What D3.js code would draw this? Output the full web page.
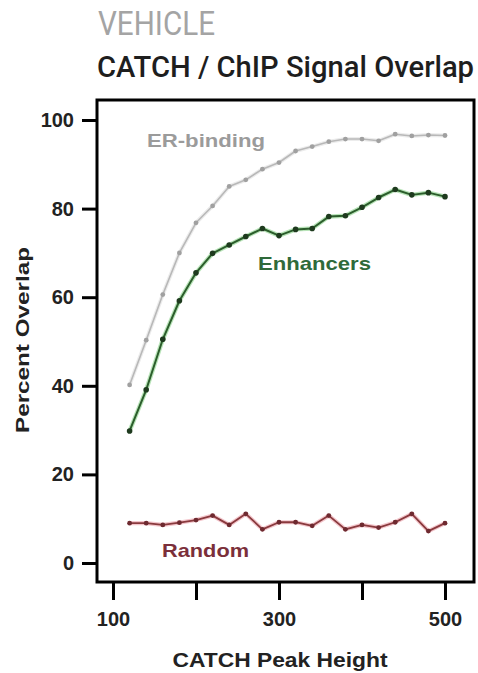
<!DOCTYPE html>
<html><head><meta charset="utf-8">
<script src="https://cdn.jsdelivr.net/npm/d3@7"></script>
<style>html,body{margin:0;padding:0;background:#fff;}svg{display:block;}</style>
</head><body>
<script>
const peakHeight = [120,140,160,180,200,220,240,260,280,300,320,340,360,380,400,420,440,460,480,500];
const erBinding = [40.2,50.3,60.6,70.0,76.8,80.6,85.0,86.5,88.9,90.4,93.0,94.0,95.1,95.7,95.7,95.3,96.8,96.4,96.6,96.5];
const enhancers = [29.8,39.1,50.5,59.2,65.5,69.9,71.8,73.7,75.5,73.9,75.3,75.5,78.2,78.4,80.3,82.5,84.3,83.1,83.6,82.7];
const randomSet = [9.0,9.0,8.6,9.1,9.7,10.7,8.6,11.1,7.6,9.2,9.2,8.4,10.7,7.6,8.6,8.0,9.2,11.1,7.2,9.0];
const xTicks = [100,200,300,400,500];
const xTickLabels = ["100","","300","","500"];
const yTicks = [0,20,40,60,80,100];
const seriesNames = ["ER-binding","Enhancers","Random"];

const W = 478, H = 673;
const svg = d3.select("body").append("svg").attr("width", W).attr("height", H);
const font = "'Liberation Sans', Arial, sans-serif";
const titleFont = "Roboto, 'Liberation Sans', Arial, sans-serif";

const x = d3.scaleLinear().domain([100,500]).range([113,445]);
const y = d3.scaleLinear().domain([0,100]).range([563,120]);

// titles
svg.append("text").attr("x",98).attr("y",35).text("VEHICLE")
  .attr("font-family",titleFont).attr("font-size",33).attr("font-weight",400).attr("fill","#a4a4a4")
  .attr("textLength",117).attr("lengthAdjust","spacingAndGlyphs");
svg.append("text").attr("x",97).attr("y",77).text("CATCH / ChIP Signal Overlap")
  .attr("font-family",titleFont).attr("font-size",29).attr("font-weight",500).attr("fill","#1e1e1e")
  .attr("textLength",377).attr("lengthAdjust","spacingAndGlyphs");

// frame
const box = {l:97, r:474, t:100, b:582};
svg.append("rect").attr("x",box.l).attr("y",box.t).attr("width",box.r-box.l).attr("height",box.b-box.t)
  .attr("fill","none").attr("stroke","#000").attr("stroke-width",3);

// y axis
const yAxis = d3.axisLeft(y).tickValues(yTicks).tickSize(15).tickPadding(8);
const gy = svg.append("g").attr("transform",`translate(${box.l},0)`).call(yAxis);
gy.select(".domain").remove();
gy.selectAll(".tick line").attr("stroke","#000").attr("stroke-width",3);
gy.selectAll(".tick text").attr("font-family",font).attr("font-size",20).attr("font-weight","bold").attr("fill","#222");

// x axis
const xAxis = d3.axisBottom(x).tickValues(xTicks).tickSize(18).tickPadding(12)
  .tickFormat((d,i)=>xTickLabels[i]);
const gx = svg.append("g").attr("transform",`translate(0,${box.b})`).call(xAxis);
gx.select(".domain").remove();
gx.selectAll(".tick line").attr("stroke","#000").attr("stroke-width",3);
gx.selectAll(".tick text").attr("font-family",font).attr("font-size",20).attr("font-weight","bold").attr("fill","#222");

// axis titles
svg.append("text").attr("x",280).attr("y",667).attr("text-anchor","middle").text("CATCH Peak Height")
  .attr("font-family",font).attr("font-size",20).attr("font-weight","bold").attr("fill","#222")
  .attr("textLength",215).attr("lengthAdjust","spacingAndGlyphs");
svg.append("text").attr("transform","translate(29,340) rotate(-90)").attr("text-anchor","middle").text("Percent Overlap")
  .attr("font-family",font).attr("font-size",19).attr("font-weight","bold").attr("fill","#222")
  .attr("textLength",186).attr("lengthAdjust","spacingAndGlyphs");

const line = d3.line().x((d,i)=>x(peakHeight[i])).y(d=>y(d));

const series = [
  {vals: erBinding, glow:"#ececec", col:"#b8b8b8", dot:"#a0a0a0", w:1.6, r:2.4},
  {vals: enhancers, glow:"#b9e4b9", col:"#2c5e2c", dot:"#1e3a1e", w:2, r:2.8},
  {vals: randomSet, glow:"#f3c6cc", col:"#8a3a3e", dot:"#6e2a30", w:1.8, r:2.4}
];
series.forEach(s=>{
  svg.append("path").datum(s.vals).attr("d",line).attr("fill","none")
    .attr("stroke",s.glow).attr("stroke-width",s.w+2.4).attr("stroke-linejoin","round");
  svg.append("path").datum(s.vals).attr("d",line).attr("fill","none")
    .attr("stroke",s.col).attr("stroke-width",s.w).attr("stroke-linejoin","round");
  svg.append("g").selectAll("circle").data(s.vals).join("circle")
    .attr("cx",(d,i)=>x(peakHeight[i])).attr("cy",d=>y(d)).attr("r",s.r).attr("fill",s.dot);
});

// series labels
const labels = [
  {t:seriesNames[0], x:147, y:147, len:118, c:"#9b9b9b"},
  {t:seriesNames[1], x:258, y:270, len:113, c:"#2f6a3a"},
  {t:seriesNames[2], x:162, y:557, len:87, c:"#7b2f3a"}
];
labels.forEach(l=>{
  svg.append("text").attr("x",l.x).attr("y",l.y).text(l.t)
    .attr("font-family",font).attr("font-size",19).attr("font-weight","bold").attr("fill",l.c)
    .attr("textLength",l.len).attr("lengthAdjust","spacingAndGlyphs");
});
</script>
</body></html>
